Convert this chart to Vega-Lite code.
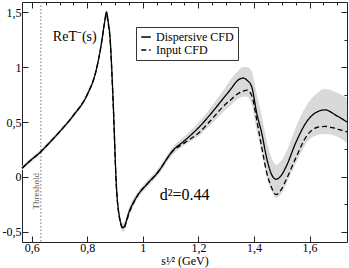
{
  "$schema": "https://vega.github.io/schema/vega-lite/v6.json",
  "width": 325,
  "height": 240,
  "autosize": {"type": "none"},
  "padding": {"left": 22, "top": 2, "right": 2, "bottom": 26},
  "background": "white",
  "config": {
    "font": "Liberation Serif",
    "view": {"stroke": null},
    "axis": {"labelFont": "Liberation Serif", "titleFont": "Liberation Serif", "labelFontSize": 12, "labelColor": "black", "domainColor": "#222", "tickColor": "#222", "grid": false, "titleFontWeight": "normal", "titleFontSize": 12, "titleColor": "black"}
  },
  "datasets": {
    "curve": [
      {"x": 0.565, "sol": 0.08, "dash": 0.08, "lo": 0.06, "hi": 0.10},
      {"x": 0.60, "sol": 0.16, "dash": 0.16, "lo": 0.14, "hi": 0.18},
      {"x": 0.633, "sol": 0.23, "dash": 0.23, "lo": 0.21, "hi": 0.25},
      {"x": 0.65, "sol": 0.275, "dash": 0.275, "lo": 0.255, "hi": 0.295},
      {"x": 0.70, "sol": 0.41, "dash": 0.41, "lo": 0.39, "hi": 0.43},
      {"x": 0.75, "sol": 0.56, "dash": 0.56, "lo": 0.54, "hi": 0.58},
      {"x": 0.80, "sol": 0.75, "dash": 0.75, "lo": 0.73, "hi": 0.77},
      {"x": 0.83, "sol": 0.95, "dash": 0.95, "lo": 0.93, "hi": 0.97},
      {"x": 0.85, "sol": 1.20, "dash": 1.20, "lo": 1.18, "hi": 1.22},
      {"x": 0.862, "sol": 1.40, "dash": 1.40, "lo": 1.38, "hi": 1.42},
      {"x": 0.869, "sol": 1.50, "dash": 1.48, "lo": 1.47, "hi": 1.52},
      {"x": 0.876, "sol": 1.40, "dash": 1.38, "lo": 1.36, "hi": 1.42},
      {"x": 0.881, "sol": 1.30, "dash": 1.28, "lo": 1.26, "hi": 1.32},
      {"x": 0.893, "sol": 0.70, "dash": 0.68, "lo": 0.66, "hi": 0.73},
      {"x": 0.905, "sol": -0.09, "dash": -0.10, "lo": -0.12, "hi": -0.06},
      {"x": 0.915, "sol": -0.35, "dash": -0.36, "lo": -0.38, "hi": -0.32},
      {"x": 0.929, "sol": -0.46, "dash": -0.47, "lo": -0.50, "hi": -0.42},
      {"x": 0.953, "sol": -0.30, "dash": -0.31, "lo": -0.34, "hi": -0.26},
      {"x": 0.983, "sol": -0.16, "dash": -0.16, "lo": -0.19, "hi": -0.13},
      {"x": 1.013, "sol": -0.07, "dash": -0.07, "lo": -0.10, "hi": -0.04},
      {"x": 1.05, "sol": 0.03, "dash": 0.03, "lo": 0.00, "hi": 0.06},
      {"x": 1.11, "sol": 0.245, "dash": 0.24, "lo": 0.21, "hi": 0.28},
      {"x": 1.15, "sol": 0.33, "dash": 0.31, "lo": 0.29, "hi": 0.37},
      {"x": 1.205, "sol": 0.46, "dash": 0.41, "lo": 0.38, "hi": 0.51},
      {"x": 1.25, "sol": 0.59, "dash": 0.53, "lo": 0.49, "hi": 0.65},
      {"x": 1.285, "sol": 0.70, "dash": 0.63, "lo": 0.58, "hi": 0.77},
      {"x": 1.32, "sol": 0.81, "dash": 0.71, "lo": 0.66, "hi": 0.90},
      {"x": 1.338, "sol": 0.87, "dash": 0.75, "lo": 0.70, "hi": 0.95},
      {"x": 1.361, "sol": 0.90, "dash": 0.78, "lo": 0.73, "hi": 1.00},
      {"x": 1.375, "sol": 0.88, "dash": 0.79, "lo": 0.73, "hi": 1.00},
      {"x": 1.392, "sol": 0.82, "dash": 0.74, "lo": 0.66, "hi": 0.96},
      {"x": 1.41, "sol": 0.58, "dash": 0.52, "lo": 0.42, "hi": 0.76},
      {"x": 1.428, "sol": 0.40, "dash": 0.27, "lo": 0.22, "hi": 0.56},
      {"x": 1.446, "sol": 0.17, "dash": 0.04, "lo": 0.00, "hi": 0.33},
      {"x": 1.464, "sol": 0.02, "dash": -0.10, "lo": -0.13, "hi": 0.17},
      {"x": 1.48, "sol": -0.02, "dash": -0.16, "lo": -0.19, "hi": 0.11},
      {"x": 1.497, "sol": 0.01, "dash": -0.12, "lo": -0.16, "hi": 0.14},
      {"x": 1.515, "sol": 0.09, "dash": -0.03, "lo": -0.07, "hi": 0.22},
      {"x": 1.552, "sol": 0.32, "dash": 0.18, "lo": 0.13, "hi": 0.46},
      {"x": 1.589, "sol": 0.50, "dash": 0.37, "lo": 0.31, "hi": 0.65},
      {"x": 1.626, "sol": 0.59, "dash": 0.45, "lo": 0.38, "hi": 0.76},
      {"x": 1.656, "sol": 0.61, "dash": 0.46, "lo": 0.39, "hi": 0.80},
      {"x": 1.696, "sol": 0.56, "dash": 0.44, "lo": 0.37, "hi": 0.77},
      {"x": 1.735, "sol": 0.50, "dash": 0.41, "lo": 0.31, "hi": 0.72}
    ],
    "one": [{"k": 1}]
  },
  "data": {"name": "curve"},
  "resolve": {"scale": {"x": "independent", "y": "independent"}, "axis": {"x": "independent", "y": "independent"}},
  "layer": [
    {
      "layer": [
        {
          "mark": {"type": "area", "color": "#d9d9d9", "interpolate": "monotone"},
          "encoding": {
            "x": {"field": "x", "type": "quantitative",
              "scale": {"domain": [0.565, 1.735], "nice": false, "zero": false},
              "axis": {"orient": "bottom", "title": "s¹⁄² (GeV)", "titlePadding": 2,
                "values": [0.6,0.65,0.7,0.75,0.8,0.85,0.9,0.95,1,1.05,1.1,1.15,1.2,1.25,1.3,1.35,1.4,1.45,1.5,1.55,1.6,1.65,1.7],
                "tickSize": {"condition": {"test": "abs(datum.value*5 - round(datum.value*5)) < 0.001", "value": -6}, "value": -3},
                "labelExpr": "abs(datum.value*5 - round(datum.value*5)) < 0.001 ? replace(toString(round(datum.value*10)/10), '.', ',') : ''",
                "labelPadding": 6, "labelFlush": false, "labelOverlap": false}},
            "y": {"field": "lo", "type": "quantitative",
              "scale": {"domain": [-0.591, 1.591], "nice": false, "zero": false},
              "axis": {"orient": "left", "title": null,
                "values": [-0.5,-0.25,0,0.25,0.5,0.75,1,1.25,1.5],
                "tickSize": {"condition": {"test": "abs(datum.value*2 - round(datum.value*2)) < 0.001", "value": -6}, "value": -3},
                "labelExpr": "abs(datum.value*2 - round(datum.value*2)) < 0.001 ? replace(toString(round(datum.value*10)/10), '.', ',') : ''",
                "labelPadding": 7, "labelFlush": false, "labelOverlap": false}},
            "y2": {"field": "hi"}
          }
        },
        {
          "data": {"name": "one"},
          "mark": {"type": "rule", "color": "#777", "strokeDash": [1.5, 2], "strokeWidth": 1},
          "encoding": {"x": {"datum": 0.633}}
        },
        {
          "transform": [{"fold": ["sol", "dash"], "as": ["series", "val"]}],
          "mark": {"type": "line", "color": "black", "strokeWidth": 1.3, "interpolate": "monotone"},
          "encoding": {
            "x": {"field": "x", "type": "quantitative"},
            "y": {"field": "val", "type": "quantitative"},
            "strokeDash": {"field": "series", "type": "nominal",
              "scale": {"domain": ["sol", "dash"], "range": [[1, 0], [5, 3]]},
              "legend": {"title": null, "orient": "none", "legendX": 114, "legendY": 25,
                "labelExpr": "datum.value == 'sol' ? 'Dispersive CFD' : 'Input CFD'",
                "strokeColor": "#333", "padding": 4, "fillColor": "white",
                "symbolType": "stroke", "symbolStrokeColor": "black", "symbolStrokeWidth": 1.3, "symbolSize": 90,
                "labelFont": "Liberation Serif", "labelFontSize": 12, "labelColor": "black", "rowPadding": 1, "labelOffset": 4}}
          }
        },
        {
          "data": {"name": "one"},
          "mark": {"type": "text", "font": "Liberation Serif", "fontSize": 14, "align": "left", "baseline": "middle", "color": "black"},
          "encoding": {"x": {"datum": 0.676}, "y": {"datum": 1.27}, "text": {"value": "ReT⁻(s)"}}
        },
        {
          "data": {"name": "one"},
          "mark": {"type": "text", "font": "Liberation Serif", "fontSize": 16, "align": "left", "baseline": "middle", "color": "black"},
          "encoding": {"x": {"datum": 1.061}, "y": {"datum": -0.164}, "text": {"value": "d²=0.44"}}
        },
        {
          "data": {"name": "one"},
          "mark": {"type": "text", "font": "Liberation Serif", "fontSize": 9, "align": "center", "baseline": "middle", "color": "#555", "angle": 270},
          "encoding": {"x": {"datum": 0.614}, "y": {"datum": -0.13}, "text": {"value": "Threshold"}}
        }
      ]
    },
    {
      "mark": {"type": "point", "opacity": 0},
      "encoding": {
        "x": {"field": "x", "type": "quantitative",
          "scale": {"domain": [0.565, 1.735], "nice": false, "zero": false},
          "axis": {"orient": "top", "title": null, "labels": false,
            "values": [0.6,0.65,0.7,0.75,0.8,0.85,0.9,0.95,1,1.05,1.1,1.15,1.2,1.25,1.3,1.35,1.4,1.45,1.5,1.55,1.6,1.65,1.7],
            "tickSize": {"condition": {"test": "abs(datum.value*5 - round(datum.value*5)) < 0.001", "value": -6}, "value": -3}}},
        "y": {"field": "sol", "type": "quantitative",
          "scale": {"domain": [-0.591, 1.591], "nice": false, "zero": false},
          "axis": {"orient": "right", "title": null, "labels": false,
            "values": [-0.5,-0.25,0,0.25,0.5,0.75,1,1.25,1.5],
            "tickSize": {"condition": {"test": "abs(datum.value*2 - round(datum.value*2)) < 0.001", "value": -6}, "value": -3}}}
      }
    }
  ]
}
